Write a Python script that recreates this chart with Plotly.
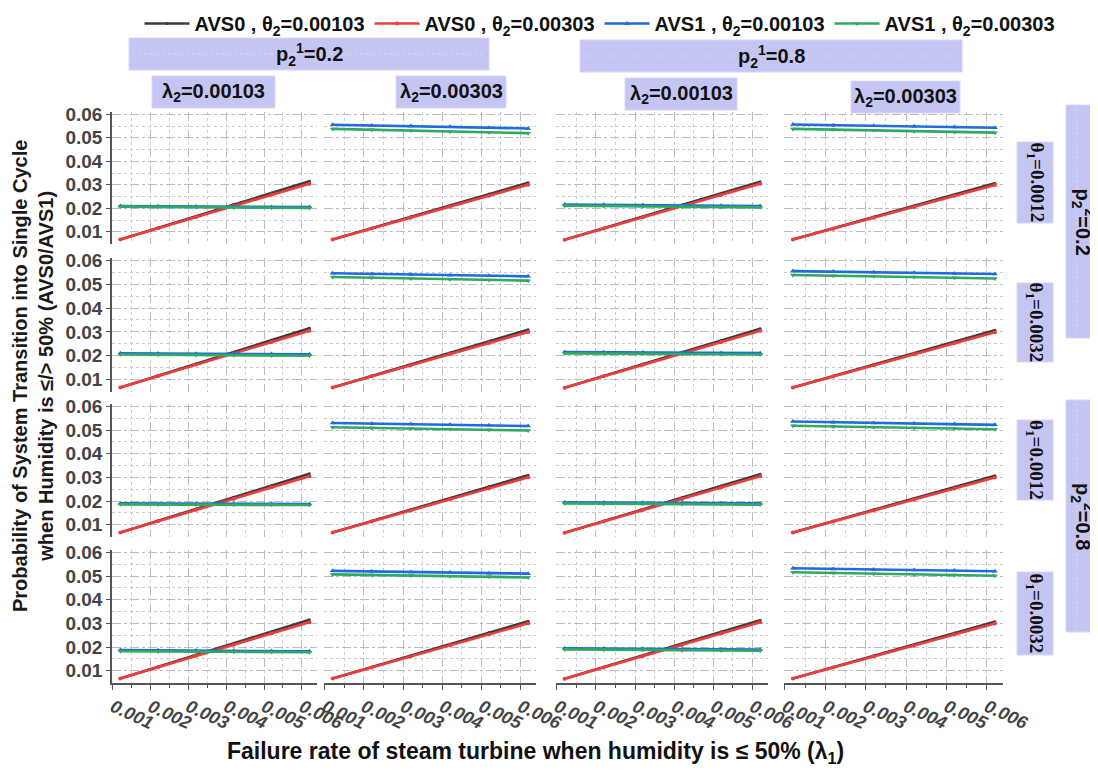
import plotly.graph_objects as go

W, H = 1098, 771

# ---------------- data ----------------
lam1 = [0.0012, 0.0022, 0.0032, 0.0042, 0.0052, 0.0062]
x_ticks = [0.001, 0.002, 0.003, 0.004, 0.005, 0.006]
x_ticktext = ["0.001", "0.002", "0.003", "0.004", "0.005", "0.006"]
y_ticks = [0.01, 0.02, 0.03, 0.04, 0.05, 0.06]
y_ticktext = ["0.01", "0.02", "0.03", "0.04", "0.05", "0.06"]

col_labels = ["λ<sub>2</sub>=0.00103", "λ<sub>2</sub>=0.00303", "λ<sub>2</sub>=0.00103", "λ<sub>2</sub>=0.00303"]
p21_labels = ["p<sub>2</sub><sup>1</sup>=0.2", "p<sub>2</sub><sup>1</sup>=0.8"]
row_labels = ["θ<sub>1</sub>=0.0012", "θ<sub>1</sub>=0.0032", "θ<sub>1</sub>=0.0012", "θ<sub>1</sub>=0.0032"]
p22_labels = ["p<sub>2</sub><sup>2</sup>=0.2", "p<sub>2</sub><sup>2</sup>=0.8"]

series_names = ["AVS0 , θ<sub>2</sub>=0.00103", "AVS0 , θ<sub>2</sub>=0.00303",
                "AVS1 , θ<sub>2</sub>=0.00103", "AVS1 , θ<sub>2</sub>=0.00303"]

# AVS0 curves per column (same in every row)
avs0_t1_by_col = [
    [0.0067, 0.0117, 0.0166, 0.0216, 0.0265, 0.0315],
    [0.0067, 0.0115, 0.0164, 0.0212, 0.0261, 0.0309],
    [0.0066, 0.0115, 0.0165, 0.0214, 0.0264, 0.0313],
    [0.0067, 0.0115, 0.0163, 0.0211, 0.0259, 0.0307],
]
avs0_t3_by_col = [
    [0.0067, 0.0115, 0.0163, 0.0210, 0.0258, 0.0305],
    [0.0067, 0.0114, 0.0160, 0.0207, 0.0253, 0.0300],
    [0.0066, 0.0114, 0.0162, 0.0209, 0.0257, 0.0305],
    [0.0067, 0.0113, 0.0160, 0.0206, 0.0253, 0.0299],
]

# AVS1, theta2 = 0.00103 (rows x cols)
avs1_t1_row1 = [[0.0210, 0.0209, 0.0208, 0.0207, 0.0206, 0.0205],
                [0.0556, 0.0553, 0.0550, 0.0547, 0.0543, 0.0540],
                [0.0216, 0.0215, 0.0214, 0.0212, 0.0211, 0.0210],
                [0.0557, 0.0554, 0.0551, 0.0549, 0.0546, 0.0543]]
avs1_t1_row2 = [[0.0210, 0.0209, 0.0208, 0.0208, 0.0207, 0.0206],
                [0.0546, 0.0543, 0.0541, 0.0538, 0.0536, 0.0533],
                [0.0216, 0.0215, 0.0214, 0.0213, 0.0212, 0.0211],
                [0.0555, 0.0553, 0.0550, 0.0548, 0.0545, 0.0543]]
avs1_t1_row3 = [[0.0190, 0.0189, 0.0189, 0.0188, 0.0188, 0.0187],
                [0.0530, 0.0527, 0.0525, 0.0522, 0.0520, 0.0517],
                [0.0195, 0.0194, 0.0193, 0.0192, 0.0191, 0.0190],
                [0.0536, 0.0533, 0.0530, 0.0528, 0.0525, 0.0522]]
avs1_t1_row4 = [[0.0187, 0.0186, 0.0185, 0.0184, 0.0183, 0.0182],
                [0.0522, 0.0520, 0.0517, 0.0515, 0.0512, 0.0510],
                [0.0195, 0.0194, 0.0193, 0.0191, 0.0190, 0.0189],
                [0.0533, 0.0530, 0.0528, 0.0525, 0.0523, 0.0520]]

# AVS1, theta2 = 0.00303 (rows x cols)
avs1_t3_row1 = [[0.0207, 0.0206, 0.0205, 0.0203, 0.0202, 0.0201],
                [0.0538, 0.0534, 0.0531, 0.0527, 0.0524, 0.0520],
                [0.0211, 0.0210, 0.0208, 0.0207, 0.0205, 0.0204],
                [0.0538, 0.0535, 0.0532, 0.0528, 0.0525, 0.0522]]
avs1_t3_row2 = [[0.0205, 0.0204, 0.0203, 0.0202, 0.0201, 0.0200],
                [0.0530, 0.0527, 0.0524, 0.0521, 0.0518, 0.0515],
                [0.0210, 0.0209, 0.0208, 0.0207, 0.0206, 0.0205],
                [0.0539, 0.0536, 0.0533, 0.0530, 0.0527, 0.0524]]
avs1_t3_row3 = [[0.0186, 0.0185, 0.0185, 0.0184, 0.0184, 0.0183],
                [0.0512, 0.0509, 0.0506, 0.0504, 0.0501, 0.0498],
                [0.0190, 0.0189, 0.0188, 0.0187, 0.0186, 0.0185],
                [0.0518, 0.0515, 0.0512, 0.0509, 0.0506, 0.0503]]
avs1_t3_row4 = [[0.0182, 0.0181, 0.0180, 0.0180, 0.0179, 0.0178],
                [0.0507, 0.0504, 0.0502, 0.0499, 0.0497, 0.0494],
                [0.0190, 0.0189, 0.0188, 0.0186, 0.0185, 0.0184],
                [0.0516, 0.0513, 0.0510, 0.0507, 0.0504, 0.0501]]

avs1_t1 = [avs1_t1_row1, avs1_t1_row2, avs1_t1_row3, avs1_t1_row4]
avs1_t3 = [avs1_t3_row1, avs1_t3_row2, avs1_t3_row3, avs1_t3_row4]

# ---------------- styling ----------------
colors = ["#3c3c3c", "#f03c3c", "#1f6be0", "#2faa62"]
symbols = ["circle", "circle", "triangle-up", "triangle-down"]
msizes = [3, 4, 5, 5]

col_px = [(112, 317), (324, 536), (556, 768), (784, 1003)]
row_px = [(112, 244), (258, 392), (404, 537), (550, 683)]
xrange_ = [0.00098, 0.0064]
yrange_ = [0.0048, 0.061]

OFF = 8  # page body margin

def PX(x):
    return (x - OFF) / W

def PY(y):
    return 1 - (y - OFF) / H

fig = go.Figure()
layout = {}
grid_c = "#bdbdbd"
minor_c = "#cccccc"
axis_c = "#555555"
tick_font = dict(family="Liberation Sans, Arial", size=19, color="#444444", weight="bold")

for r in range(4):
    for c in range(4):
        k = r * 4 + c + 1
        xa = "x" if k == 1 else f"x{k}"
        ya = "y" if k == 1 else f"y{k}"
        xkey = "xaxis" if k == 1 else f"xaxis{k}"
        ykey = "yaxis" if k == 1 else f"yaxis{k}"
        ys = [avs0_t1_by_col[c], avs0_t3_by_col[c], avs1_t1[r][c], avs1_t3[r][c]]
        for s in range(4):
            fig.add_trace(go.Scatter(
                x=lam1, y=ys[s], mode="lines+markers", name=series_names[s],
                line=dict(color=colors[s], width=2.6),
                marker=dict(symbol=symbols[s], size=msizes[s], color=colors[s]),
                xaxis=xa, yaxis=ya, showlegend=(k == 1), legendrank=s + 1,
            ))
        bottom = (r == 3)
        left = (c == 0)
        layout[xkey] = dict(
            domain=[PX(col_px[c][0]), PX(col_px[c][1])], anchor=ya,
            range=xrange_, tickvals=x_ticks,
            ticktext=[f"<i>{t}</i>" for t in x_ticktext],
            showticklabels=bottom, tickangle=25,
            tickfont=dict(family="Liberation Sans, Arial", size=18, color="#444444", weight="bold"),
            ticks="outside" if bottom else "", ticklen=5, tickcolor=axis_c,
            showline=bottom, linecolor=axis_c, linewidth=1.5,
            showgrid=True, gridcolor=grid_c, griddash="dash", gridwidth=1.2,
            minor=dict(dtick=0.0005, tick0=0.0005, showgrid=True, gridcolor=minor_c, griddash="dot",
                       ticks="outside" if bottom else "", ticklen=3, tickcolor=axis_c),
            zeroline=False, fixedrange=True,
        )
        layout[ykey] = dict(
            domain=[PY(row_px[r][1]), PY(row_px[r][0])], anchor=xa,
            range=yrange_, tickvals=y_ticks, ticktext=y_ticktext,
            showticklabels=left, tickfont=tick_font,
            ticks="outside" if left else "", ticklen=4, tickcolor=axis_c,
            showline=left, linecolor=axis_c, linewidth=1.5,
            showgrid=True, gridcolor=grid_c, griddash="dashdot", gridwidth=1.2,
            minor=dict(dtick=0.005, tick0=0.005, showgrid=True, gridcolor=minor_c, griddash="dot"),
            zeroline=False, fixedrange=True,
        )

fill = "#c5c5f4"
edge = "#d6d6f8"
shapes = []
annotations = []
strip_font = dict(family="Liberation Sans, Arial", size=20, color="#111111", weight="bold")
serif_font = dict(family="Liberation Serif, Times New Roman, serif", size=19, color="#111111", weight="bold")

def box(x0, y0, x1, y1):
    shapes.append(dict(type="rect", xref="paper", yref="paper",
                       x0=PX(x0), x1=PX(x1), y0=PY(y1), y1=PY(y0),
                       fillcolor=fill, line=dict(color=edge, width=1), layer="above"))

# top p21 strips
p21_px = [(129, 38, 489, 70), (580, 40, 962, 72)]
for (x0, y0, x1, y1), lab in zip(p21_px, p21_labels):
    box(x0, y0, x1, y1)
    ym = (y0 + y1) / 2
    shapes.append(dict(type="line", xref="paper", yref="paper", x0=PX(x0 + 3), x1=PX(x1 - 3),
                       y0=PY(ym), y1=PY(ym), line=dict(color="#d9d9e6", width=1, dash="dot"), layer="above"))
    annotations.append(dict(text=lab, x=PX((x0 + x1) / 2), y=PY(ym), xref="paper", yref="paper",
                            showarrow=False, font=strip_font, xanchor="center", yanchor="middle"))

# lambda2 strips
lam_px = [(152, 76, 275, 108), (396, 76, 506, 108), (625, 78, 737, 110), (851, 81, 960, 113)]
for (x0, y0, x1, y1), lab in zip(lam_px, col_labels):
    box(x0, y0, x1, y1)
    annotations.append(dict(text=lab, x=PX((x0 + x1) / 2), y=PY((y0 + y1) / 2), xref="paper", yref="paper",
                            showarrow=False, font=strip_font, xanchor="center", yanchor="middle"))

# theta1 strips (right)
th_px = [(1017, 142, 1053, 223), (1017, 283, 1053, 362), (1017, 420, 1053, 500), (1017, 572, 1053, 655)]
for (x0, y0, x1, y1), lab in zip(th_px, row_labels):
    box(x0, y0, x1, y1)
    annotations.append(dict(text=lab, x=PX((x0 + x1) / 2), y=PY((y0 + y1) / 2), xref="paper", yref="paper",
                            showarrow=False, font=serif_font, textangle=90, xanchor="center", yanchor="middle"))

# p22 strips (far right)
p22_px = [(1066, 105, 1100, 338), (1066, 400, 1100, 632)]
for (x0, y0, x1, y1), lab in zip(p22_px, p22_labels):
    box(x0, y0, x1, y1)
    shapes.append(dict(type="line", xref="paper", yref="paper", x0=PX(1077), x1=PX(1077),
                       y0=PY(y0 + 3), y1=PY(y1 - 3), line=dict(color="#d9d9e6", width=1, dash="dot"), layer="above"))
    annotations.append(dict(text=lab, x=PX(1083), y=PY((y0 + y1) / 2), xref="paper", yref="paper",
                            showarrow=False, font=strip_font, textangle=90, xanchor="center", yanchor="middle"))

# axis titles
annotations.append(dict(
    text="Probability of System Transition into Single Cycle<br>when Humidity is ≤/> 50% (AVS0/AVS1)",
    x=PX(33), y=PY(376), xref="paper", yref="paper", showarrow=False, textangle=-90,
    font=dict(family="Liberation Sans, Arial", size=20, color="#1a1a1a", weight="bold"),
    xanchor="center", yanchor="middle"))
annotations.append(dict(
    text="Failure rate of steam turbine when humidity is ≤ 50% (λ<sub>1</sub>)",
    x=PX(535), y=PY(752), xref="paper", yref="paper", showarrow=False,
    font=dict(family="Liberation Sans, Arial", size=23, color="#111111", weight="bold"),
    xanchor="center", yanchor="middle"))

fig.update_layout(
    **layout,
    width=W, height=H,
    margin=dict(l=0, r=0, t=0, b=0, autoexpand=False),
    paper_bgcolor="white", plot_bgcolor="white",
    shapes=shapes, annotations=annotations,
    showlegend=True,
    legend=dict(orientation="h", x=PX(600), xanchor="center", y=PY(4), yanchor="top",
                font=dict(family="Liberation Sans, Arial", size=20, color="#111111", weight="bold"),
                itemwidth=45, tracegroupgap=0, bgcolor="rgba(0,0,0,0)"),
)

fig.write_html("out.html")
